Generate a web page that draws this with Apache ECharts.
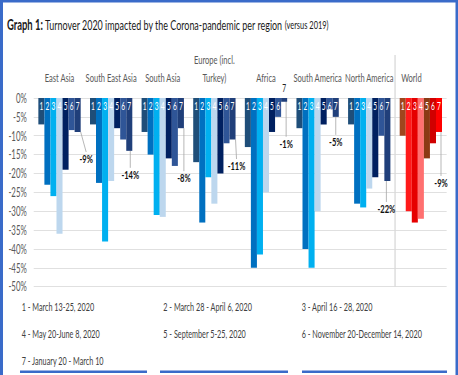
<!DOCTYPE html>
<html><head><meta charset="utf-8">
<script src="https://cdn.jsdelivr.net/npm/echarts@6/dist/echarts.min.js"></script>
<style>
html,body{margin:0;padding:0;overflow:hidden;background:#fff;width:458px;height:375px;}
#wrap{width:458px;height:375px;overflow:hidden;position:relative;background:#fff;}
#chart{position:absolute;left:0;top:0;height:375px;transform-origin:0 0;}
</style></head><body>
<div id="wrap"><div id="chart"></div></div>
<script>
// ---- data ----
const categories = ['East Asia', 'South East Asia', 'South Asia', 'Europe (incl.\nTurkey)', 'Africa', 'South America', 'North America', 'World'];
const periodNames = ['1', '2', '3', '4', '5', '6', '7'];
const period1 = [-7, -7, -9, -17, -13, -8, -7, -10];
const period2 = [-23, -22.5, -15, -33, -45, -40, -28, -30];
const period3 = [-26, -38, -31, -21, -41.5, -45, -29, -33];
const period4 = [-36, -22, -31.5, -28, -25, -30, -24, -32];
const period5 = [-19, -8, -16, -20, -9, -7, -21, -16];
const period6 = [-8.5, -11, -18, -12, -5, -3, -10, -12];
const period7 = [-9, -14, -8, -11, -1, -5, -22, -9];
const yMin = -50, yMax = 0, yStep = 5;
const legendLabels = [
  '1 - March 13-25, 2020', '2 - March 28 - April 6, 2020', '3 - April 16 - 28, 2020',
  '4 - May 20-June 8, 2020', '5 - September 5-25, 2020', '6 - November 20-December 14, 2020',
  '7 - January 20 - March 10'
];
const titleBold = 'Graph 1:';
const titleMain = 'Turnover 2020 impacted by the Corona-pandemic per region';
const titleSub = '(versus 2019)';

// ---- styling ----
const S = 0.63;               // horizontal condensing of the whole picture
const W = 458 / S, H = 375;
const FF = 'Lato';
const blueColors = ['#1f4e79', '#0070c0', '#00b0f0', '#bdd7ee', '#002060', '#2f5597', '#203f7a'];
const worldColors = ['#a0461e', '#ff1a1a', '#e60000', '#ff7070', '#8b3a14', '#d00000', '#ff0000'];
// callout offsets (pixels, screen space) relative to default "below bar" position
const calloutShift = [[8.5, 15], [1, 12], [3, 38], [4, 14.5], [2, 30], [0, 13], [-1, 16], [2, 39]];

const el = document.getElementById('chart');
el.style.width = W + 'px';
el.style.transform = 'scaleX(' + S + ')';
const chart = echarts.init(el, null, { renderer: 'svg', width: W, height: H });

const periods = [period1, period2, period3, period4, period5, period6, period7];

const series = periods.map((vals, k) => {
  const s = {
    type: 'bar',
    name: periodNames[k],
    barGap: 0,
    barCategoryGap: '18%',
    itemStyle: { color: blueColors[k] },
    data: vals.map((v, i) => i === categories.length - 1 ? { value: v, itemStyle: { color: worldColors[k] } } : v),
    animation: false
  };
  if (k < periods.length - 1) {
    s.label = { show: true, position: 'insideTop', distance: 2, formatter: periodNames[k],
      color: '#fff', fontSize: 10.5, fontFamily: FF };
  } else {
    s.label = { show: true, position: 'bottom', formatter: p => p.value + '%',
      color: '#111', fontSize: 12, fontWeight: 'bold', fontFamily: FF };
    s.labelLine = { show: true, lineStyle: { color: '#a6a6a6', width: 1 } };
    s.labelLayout = p => ({ dx: calloutShift[p.dataIndex][0] / S, dy: calloutShift[p.dataIndex][1] });
    s.markPoint = {
      symbol: 'circle', symbolSize: 1, silent: true, animation: false,
      itemStyle: { color: 'rgba(0,0,0,0)' },
      label: { show: true, position: 'inside', formatter: periodNames[k], color: '#fff',
        fontSize: 10.5, fontFamily: FF, offset: [0, 8] },
      data: vals.map((v, i) => {
        const d = { coord: [i, 0] };
        if (v > -3) d.label = { color: '#222', offset: [0, -10] };
        return d;
      })
    };
  }
  return s;
});

const option = {
  animation: false,
  backgroundColor: '#fff',
  grid: { left: 53.5, right: W - 709, top: 98, bottom: H - 286.7, containLabel: false },
  xAxis: {
    type: 'category', position: 'top', data: categories,
    axisLine: { show: false }, axisTick: { show: false },
    axisLabel: {
      interval: 0, margin: 12, color: '#595959', fontSize: 12, fontFamily: FF, lineHeight: 18,
      formatter: v => v === 'World' ? '{w|' + v + '}' : v,
      rich: { w: { color: '#595959', fontSize: 12, fontFamily: FF, padding: [0, 30, 0, 0] } }
    }
  },
  yAxis: {
    type: 'value', min: yMin, max: yMax, interval: yStep,
    axisLine: { show: false }, axisTick: { show: false },
    axisLabel: { formatter: '{value}%', color: '#595959', fontSize: 12.5, fontFamily: FF, margin: 11 },
    splitLine: { lineStyle: { color: '#d9d9d9', width: 1 } }
  },
  series: series
};
chart.setOption(option);

// ---- graphics: title, legend notes, separator, frame ----
const xNA = chart.convertToPixel({ xAxisIndex: 0 }, categories[6]);
const xW = chart.convertToPixel({ xAxisIndex: 0 }, categories[7]);
const xSep = (xNA + xW) / 2;
const yBot = chart.convertToPixel({ yAxisIndex: 0 }, yMin);

const legendCols = [34.4, 259.2, 478.9];
const legendRows = [306.5, 334, 360.5];
const graphics = [];
graphics.push({
  type: 'text', x: 11, y: 24.5, silent: true,
  style: {
    text: '{b|' + titleBold + '} {r|' + titleMain + '} {s|' + titleSub + '}',
    verticalAlign: 'middle',
    rich: {
      b: { fontWeight: 'bold', fontSize: 15, fontFamily: FF, fill: '#1a1a1a' },
      r: { fontSize: 14.2, fontFamily: FF, fill: '#1a1a1a' },
      s: { fontSize: 11.8, fontFamily: FF, fill: '#1a1a1a' }
    }
  }
});
legendLabels.forEach((t, i) => {
  graphics.push({
    type: 'text', x: legendCols[i % 3], y: legendRows[Math.floor(i / 3)], silent: true,
    style: { text: t, fontSize: 11.5, fontFamily: FF, fill: '#404040', verticalAlign: 'middle' }
  });
});
graphics.push({ type: 'line', silent: true, shape: { x1: xSep, y1: 55, x2: xSep, y2: yBot },
  style: { stroke: '#d9d9d9', lineWidth: 1.3 / S } });
const blue = '#3a6bc9';
graphics.push({ type: 'rect', silent: true, shape: { x: 0, y: 0, width: W, height: 2.5 }, style: { fill: blue } });
graphics.push({ type: 'rect', silent: true, shape: { x: 0, y: 0, width: 3 / S, height: H }, style: { fill: blue } });
graphics.push({ type: 'rect', silent: true, shape: { x: W - 2.5 / S, y: 0, width: 2.5 / S, height: H }, style: { fill: blue } });
[[20, 147], [160, 288], [302, 447]].forEach(seg => {
  graphics.push({ type: 'rect', silent: true, shape: { x: seg[0] / S, y: 370.5, width: (seg[1] - seg[0]) / S, height: 2.5 }, style: { fill: blue } });
});
chart.setOption({ graphic: graphics });
</script>
</body></html>
